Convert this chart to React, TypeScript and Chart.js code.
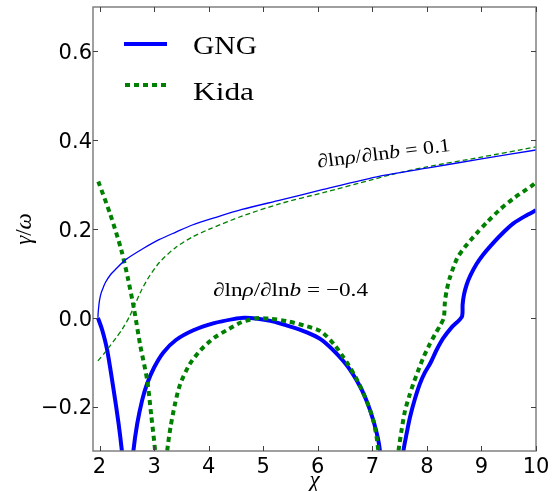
import React, { useEffect, useRef } from "react";
import { Chart, registerables } from "chart.js";

Chart.register(...registerables);

// ---- data ----
const xTicks = [2, 3, 4, 5, 6, 7, 8, 9, 10];
const yTicks = [-0.2, 0.0, 0.2, 0.4, 0.6];
const yTickLabels = ["\u22120.2", "0.0", "0.2", "0.4", "0.6"];

// GNG, dlnrho/dlnb = 0.1 (thin solid)
const gng01X = [1.97, 1.975, 1.985, 2.0, 2.03, 2.07, 2.11, 2.2, 2.3, 2.48, 2.8, 3.09, 3.4, 3.7, 4.1, 4.61, 5.31, 6.1, 7.14, 8.0, 9.0, 10.0];
const gng01Y = [0.0, 0.012, 0.025, 0.04, 0.056, 0.069, 0.08, 0.097, 0.11, 0.131, 0.156, 0.176, 0.193, 0.209, 0.225, 0.244, 0.265, 0.289, 0.319, 0.337, 0.358, 0.378];

// Kida, dlnrho/dlnb = 0.1 (thin dashed)
const kida01X = [1.97, 2.1, 2.2, 2.3, 2.42, 2.55, 2.66, 2.78, 2.91, 3.1, 3.39, 3.7, 4.0, 4.61, 5.31, 6.1, 7.0, 7.33, 8.0, 9.0, 10.0];
const kida01Y = [-0.097, -0.078, -0.062, -0.046, -0.025, 0.003, 0.033, 0.065, 0.093, 0.125, 0.158, 0.182, 0.199, 0.229, 0.257, 0.282, 0.311, 0.322, 0.34, 0.362, 0.385];

// GNG, dlnrho/dlnb = -0.4 (thick solid), three branches
const gngA_X = [1.97, 2.05, 2.14, 2.26, 2.35, 2.41, 2.44];
const gngA_Y = [0.0, -0.028, -0.073, -0.164, -0.239, -0.3, -0.34];
const gngB_X = [2.6, 2.62, 2.69, 2.78, 2.87, 3.0, 3.17, 3.4, 3.72, 4.1, 4.45, 4.65, 4.9, 5.13, 5.5, 5.8, 6.05, 6.3, 6.55, 6.78, 6.92, 7.02, 7.1, 7.14, 7.17];
const gngB_Y = [-0.34, -0.3, -0.239, -0.186, -0.149, -0.112, -0.078, -0.05, -0.028, -0.012, -0.003, 0.0, -0.002, -0.007, -0.02, -0.033, -0.048, -0.075, -0.11, -0.156, -0.195, -0.232, -0.27, -0.3, -0.34];
const gngC_X = [7.55, 7.57, 7.63, 7.69, 7.78, 7.87, 7.96, 8.06, 8.18, 8.3, 8.45, 8.64, 8.655, 8.68, 8.73, 8.8, 8.91, 9.03, 9.16, 9.35, 9.58, 9.8, 10.0];
const gngC_Y = [-0.34, -0.3, -0.26, -0.224, -0.183, -0.149, -0.124, -0.103, -0.072, -0.046, -0.022, 0.002, 0.03, 0.052, 0.075, 0.096, 0.121, 0.142, 0.161, 0.186, 0.212, 0.229, 0.242];

// Kida, dlnrho/dlnb = -0.4 (thick dotted), three branches
const kidaA_X = [1.977, 2.197, 2.398, 2.527, 2.636, 2.746, 2.874, 2.948, 3.021, 3.04];
const kidaA_Y = [0.307, 0.233, 0.153, 0.085, 0.017, -0.062, -0.141, -0.22, -0.302, -0.34];
const kidaB_X = [3.22, 3.24, 3.3, 3.39, 3.48, 3.65, 3.85, 4.1, 4.33, 4.6, 4.88, 5.13, 5.45, 5.74, 6.05, 6.3, 6.53, 6.7, 6.84, 6.95, 7.02, 7.08, 7.11, 7.13];
const kidaB_Y = [-0.34, -0.3, -0.247, -0.19, -0.149, -0.105, -0.073, -0.045, -0.028, -0.01, -0.001, -0.002, -0.008, -0.017, -0.03, -0.06, -0.1, -0.135, -0.171, -0.205, -0.232, -0.27, -0.3, -0.34];
const kidaC_X = [7.46, 7.48, 7.54, 7.6, 7.68, 7.75, 7.85, 7.94, 8.05, 8.15, 8.24, 8.31, 8.33, 8.36, 8.42, 8.55, 8.7, 8.91, 9.1, 9.34, 9.6, 9.92, 10.0];
const kidaC_Y = [-0.34, -0.3, -0.25, -0.209, -0.175, -0.149, -0.116, -0.088, -0.06, -0.037, -0.018, 0.0, 0.035, 0.06, 0.09, 0.133, 0.16, 0.19, 0.215, 0.244, 0.27, 0.297, 0.305];

const legendLabels = ["GNG", "Kida"];
const xMin = 1.88, xMax = 10, yMin = -0.3, yMax = 0.7;

const BLUE = "#0000ff";
const GREEN = "#008000";

const pts = (xs: number[], ys: number[]) => xs.map((x, i) => ({ x, y: ys[i] }));

type Seg = { t: string; it?: boolean };
function drawRich(ctx: CanvasRenderingContext2D, segs: Seg[], x: number, y: number, size: number, targetW: number, rot: number, align: "left" | "center" = "left") {
  ctx.save();
  const fontOf = (s: Seg) => `${s.it ? "italic " : ""}${size}px "Liberation Serif", "DejaVu Serif", serif`;
  let w = 0;
  for (const s of segs) { ctx.font = fontOf(s); w += ctx.measureText(s.t).width; }
  const sx = targetW > 0 ? targetW / w : 1;
  ctx.translate(x, y);
  ctx.rotate(rot);
  ctx.scale(sx, 1);
  ctx.textAlign = "left";
  ctx.textBaseline = "alphabetic";
  ctx.fillStyle = "#000";
  let cx = align === "center" ? -w / 2 : 0;
  for (const s of segs) {
    ctx.font = fontOf(s);
    ctx.fillText(s.t, cx, 0);
    cx += ctx.measureText(s.t).width;
  }
  ctx.restore();
}

const decorPlugin = {
  id: "decor",
  afterDatasetsDraw(chart: any) {
    const ctx: CanvasRenderingContext2D = chart.ctx;
    const { left, right, top, bottom } = chart.chartArea;
    const xs = chart.scales.x, ys = chart.scales.y;
    ctx.save();
    // frame
    ctx.strokeStyle = "#808080";
    ctx.lineWidth = 1.5;
    ctx.strokeRect(left, top, right - left, bottom - top);
    // inward ticks
    ctx.strokeStyle = "#404040";
    ctx.lineWidth = 1;
    const tl = 5;
    ctx.beginPath();
    for (const v of xTicks) {
      const px = Math.round(xs.getPixelForValue(v)) + 0.5;
      ctx.moveTo(px, bottom); ctx.lineTo(px, bottom - tl);
      ctx.moveTo(px, top); ctx.lineTo(px, top + tl);
    }
    for (const v of yTicks) {
      const py = Math.round(ys.getPixelForValue(v)) + 0.5;
      ctx.moveTo(left, py); ctx.lineTo(left + tl, py);
      ctx.moveTo(right, py); ctx.lineTo(right - tl, py);
    }
    ctx.stroke();
    // tick labels
    ctx.fillStyle = "#000";
    ctx.font = '21px "DejaVu Sans", sans-serif';
    ctx.textBaseline = "alphabetic";
    ctx.textAlign = "center";
    for (const v of xTicks) {
      ctx.fillText(String(v), xs.getPixelForValue(v), bottom + 21.5);
    }
    ctx.textAlign = "right";
    yTicks.forEach((v, i) => {
      ctx.fillText(yTickLabels[i], left - 1, ys.getPixelForValue(v) + 7.8);
    });
    // axis titles
    drawRich(ctx, [{ t: "\u03c7", it: true }], (left + right) / 2, 487, 23, 0, 0, "center");
    ctx.save();
    ctx.translate(31, (top + bottom) / 2);
    ctx.rotate(-Math.PI / 2);
    drawRich(ctx, [{ t: "\u03b3", it: true }, { t: "/" }, { t: "\u03c9", it: true }], 0, 0, 23, 0, 0, "center");
    ctx.restore();
    // annotations
    drawRich(ctx, [{ t: "\u2202ln" }, { t: "\u03c1", it: true }, { t: "/\u2202ln" }, { t: "b", it: true }, { t: " = 0.1" }], 318, 167.5, 19, 134, -7.1 * Math.PI / 180);
    drawRich(ctx, [{ t: "\u2202ln" }, { t: "\u03c1", it: true }, { t: "/\u2202ln" }, { t: "b", it: true }, { t: " = \u22120.4" }], 213, 296, 19, 155, 0);
    // legend
    ctx.lineCap = "butt";
    ctx.strokeStyle = BLUE; ctx.lineWidth = 4; ctx.setLineDash([]);
    ctx.beginPath(); ctx.moveTo(124, 44); ctx.lineTo(167, 44); ctx.stroke();
    ctx.strokeStyle = GREEN; ctx.lineWidth = 4; ctx.setLineDash([5, 4]);
    ctx.beginPath(); ctx.moveTo(125, 85); ctx.lineTo(167, 85); ctx.stroke();
    ctx.setLineDash([]);
    drawRich(ctx, [{ t: legendLabels[0] }], 193, 53.5, 25, 64, 0);
    drawRich(ctx, [{ t: legendLabels[1] }], 193, 100, 25, 61, 0);
    ctx.restore();
  },
};

export default function App() {
  const ref = useRef<HTMLCanvasElement>(null);
  useEffect(() => {
    if (!ref.current) return;
    const thick = (xs: number[], ys: number[], color: string, dash: number[]) => ({
      data: pts(xs, ys), borderColor: color, borderWidth: 4, borderDash: dash, pointRadius: 0,
      tension: 0.25, fill: false, borderCapStyle: "butt" as const,
    });
    const chart = new Chart(ref.current, {
      type: "line",
      data: {
        datasets: [
          { data: pts(gng01X, gng01Y), borderColor: BLUE, borderWidth: 1.3, pointRadius: 0, tension: 0.25, fill: false },
          { data: pts(kida01X, kida01Y), borderColor: GREEN, borderWidth: 1.3, borderDash: [5, 3], pointRadius: 0, tension: 0.25, fill: false },
          thick(kidaA_X, kidaA_Y, GREEN, [5, 4]),
          thick(kidaB_X, kidaB_Y, GREEN, [5, 4]),
          thick(kidaC_X, kidaC_Y, GREEN, [5, 4]),
          thick(gngA_X, gngA_Y, BLUE, []),
          thick(gngB_X, gngB_Y, BLUE, []),
          thick(gngC_X, gngC_Y, BLUE, []),
        ] as any,
      },
      options: {
        animation: false,
        responsive: false,
        layout: { padding: { left: 93, right: 17, top: 7, bottom: 40 } },
        plugins: { legend: { display: false }, tooltip: { enabled: false } },
        scales: {
          x: { type: "linear", min: xMin, max: xMax, display: false },
          y: { type: "linear", min: yMin, max: yMax, display: false },
        },
      },
      plugins: [decorPlugin],
    });
    return () => chart.destroy();
  }, []);
  return (
    <div style={{ position: "fixed", left: 0, top: 0, width: 553, height: 491, background: "#fff" }}>
      <canvas ref={ref} width={553} height={491} style={{ display: "block" }} />
    </div>
  );
}
